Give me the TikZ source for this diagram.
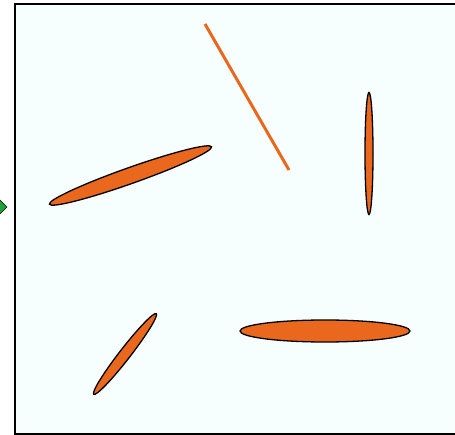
\documentclass[tikz,border=0pt]{standalone}
\usepackage{xcolor}
\usetikzlibrary{shapes.geometric}
\definecolor{paleaqua}{HTML}{F6FEFE}
\definecolor{rust}{HTML}{EA671E}
\definecolor{marker}{HTML}{1FA33A}

\begin{document}
\begin{tikzpicture}[x=1pt,y=1pt,blob/.style={fill=rust,draw=black,line width=1.3pt}]
\useasboundingbox (0,0) rectangle (455,434);
\begin{scope}
\clip (0,0) rectangle (455,434);
\draw[fill=paleaqua,line width=1.8pt] (15,0) rectangle (470,430);
\node[diamond,fill=marker,draw=black!70!marker,line width=.6pt,inner sep=0pt,minimum size=14pt] (entry) at (0,227){};
\end{scope}
\draw[blob,rotate around={19.5:(130.5,258.5)}] (130.5,258.5) ellipse (86 and 8);
\draw[blob] (369,280.5) ellipse (4 and 61);
\draw[blob,rotate around={52.2:(125,80)}] (125,80) ellipse (51 and 5.5);
\draw[blob] (325,103) ellipse (85 and 11);
\draw[rust,line width=3pt] (205,410)--(289,264);
\end{tikzpicture}
\end{document}
